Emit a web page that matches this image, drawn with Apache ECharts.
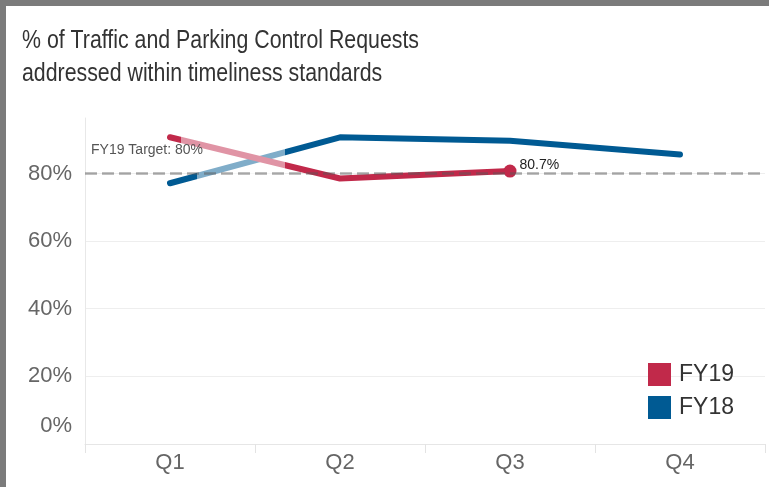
<!DOCTYPE html>
<html>
<head>
<meta charset="utf-8">
<script src="https://cdn.jsdelivr.net/npm/echarts@6/dist/echarts.min.js"></script>
<style>
  html, body { margin: 0; padding: 0; background: #fff; }
  #chart { width: 769px; height: 487px; }
</style>
</head>
<body>
<div id="chart"></div>
<script>
const quarters = ['Q1', 'Q2', 'Q3', 'Q4'];
const fy18 = [77.1, 90.7, 89.7, 85.6];
const fy19 = [90.7, 78.5, 80.7, null];
const targetValue = 80;
const targetLabel = 'FY19 Target: 80%';
const titleText = '% of Traffic and Parking Control Requests\naddressed within timeliness standards';
const yMin = 0, yMax = 96.4, yStep = 20;

const RED = '#c1294a';
const BLUE = '#005a93';
const FONT = '"Liberation Sans", Arial, sans-serif';

const lastIdx19 = fy19.reduce((a, v, i) => (v != null ? i : a), -1);
const fy19Data = fy19.map((v, i) => i === lastIdx19
  ? { value: v, symbol: 'circle', symbolSize: 13,
      label: { show: true, position: 'right', distance: 3, offset: [0, -6],
               formatter: '{c}%', fontSize: 14, color: '#222', fontFamily: FONT } }
  : { value: v, symbol: 'none' });

const chart = echarts.init(document.getElementById('chart'), null, { renderer: 'canvas' });
chart.setOption({
  animation: false,
  backgroundColor: '#fff',
  legend: {
    data: ['FY19', 'FY18'],
    orient: 'vertical', left: 648, top: 363, padding: 0,
    icon: 'rect', itemWidth: 23, itemHeight: 23, itemGap: 10,
    textStyle: { fontFamily: FONT, fontSize: 23, color: '#333', padding: [0, 0, 0, 3] },
    selectedMode: false
  },
  grid: { left: 85, right: 4, top: 118, bottom: 43, containLabel: false },
  xAxis: {
    type: 'category', data: quarters, boundaryGap: true,
    axisLine: { show: true, lineStyle: { color: '#e6e6e6', width: 1 } },
    axisTick: { show: true, length: 9, lineStyle: { color: '#e3e3e3' } },
    axisLabel: { fontFamily: FONT, fontSize: 22, color: '#666', margin: 8 },
    splitLine: { show: false }
  },
  yAxis: {
    type: 'value', min: yMin, max: yMax, interval: yStep,
    axisLine: { show: true, lineStyle: { color: '#e8e8e8' } },
    axisTick: { show: false },
    axisLabel: {
      fontFamily: FONT, fontSize: 22, color: '#666', margin: 13, showMaxLabel: false,
      formatter: v => v === 0 ? '{z|0%}' : (Math.abs(v % yStep) < 1e-9 ? v + '%' : ''),
      rich: { z: { fontFamily: FONT, fontSize: 22, color: '#666', padding: [0, 0, 36, 0] } }
    },
    splitLine: { show: true, showMaxLine: false,
      lineStyle: { color: ['#eeeeee', '#eeeeee', '#eeeeee', '#eeeeee', '#eeeeee', 'rgba(0,0,0,0)'], width: 1 } }
  },
  graphic: [
    { type: 'text', z: 10, silent: true, x: 22, y: 24, scaleX: 0.82, scaleY: 1,
      style: { text: titleText, fontFamily: '"Liberation Sans", Arial, sans-serif',
               fontSize: 26, lineHeight: 33, fill: '#333', verticalAlign: 'top' } },
    { type: 'rect', z: 3, silent: true, shape: { x: 181, y: 125, width: 104, height: 36 },
      style: { fill: 'rgba(255,255,255,0.5)' } },
    { type: 'rect', z: 3, silent: true, shape: { x: 197, y: 161, width: 88, height: 30 },
      style: { fill: 'rgba(255,255,255,0.5)' } },
    { type: 'rect', z: 10, silent: true, shape: { x: 0, y: 0, width: 769, height: 6 },
      style: { fill: '#7b7b7b' } },
    { type: 'rect', z: 10, silent: true, shape: { x: 0, y: 0, width: 6, height: 487 },
      style: { fill: '#7b7b7b' } }
  ],
  series: [
    {
      name: 'FY18', type: 'line', data: fy18, symbol: 'none', z: 2,
      color: BLUE,
      lineStyle: { color: BLUE, width: 6, cap: 'round', join: 'round' },
      itemStyle: { color: BLUE },
      emphasis: { disabled: true }
    },
    {
      name: 'FY19', type: 'line', data: fy19Data, symbol: 'circle', z: 2,
      color: RED,
      lineStyle: { color: RED, width: 6, cap: 'round', join: 'round' },
      itemStyle: { color: RED },
      emphasis: { disabled: true },
      markLine: {
        silent: true, symbol: ['none', 'none'], z: 5,
        lineStyle: { color: 'rgba(87,87,87,0.5)', width: 2.5, type: [12, 5] },
        label: { show: true, position: 'insideStartTop', formatter: targetLabel,
                 fontFamily: FONT, fontSize: 14, color: '#555', distance: [6, 16] },
        data: [{ yAxis: targetValue }]
      }
    }
  ]
});
</script>
</body>
</html>
